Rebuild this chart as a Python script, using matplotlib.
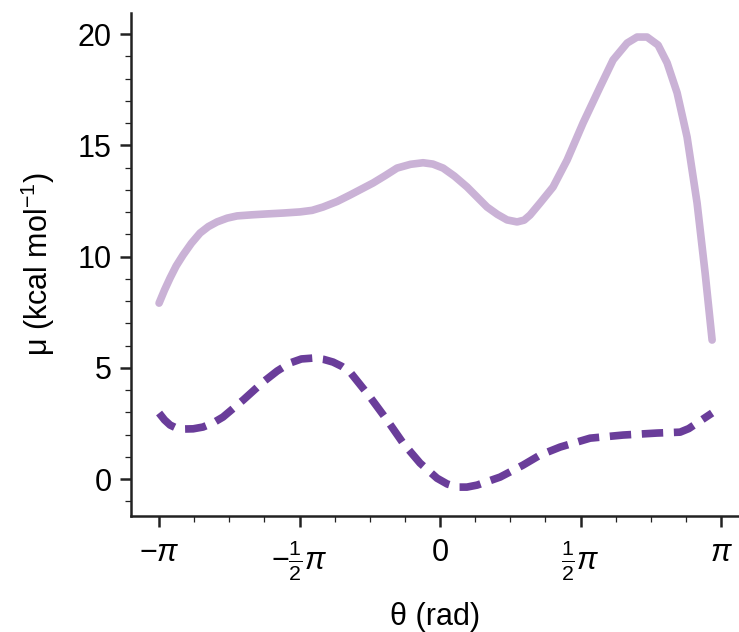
import numpy as np
import matplotlib
matplotlib.use("Agg")
import matplotlib.pyplot as plt
from matplotlib.ticker import FixedLocator, MultipleLocator

# Courbe 1 (trait plein, lilas clair)
theta_a = [-3.141, -3.080, -3.018, -2.950, -2.873, -2.780, -2.683, -2.590, -2.493,
           -2.380, -2.269, -2.100, -1.934, -1.750, -1.565, -1.430, -1.308,
           -1.150, -1.006, -0.749, -0.610, -0.481, -0.330, -0.190, -0.080, 0.034,
           0.160, 0.302, 0.525, 0.640, 0.749, 0.861, 0.940,
           1.006, 1.118, 1.263, 1.420, 1.599, 1.789, 1.934, 2.091, 2.202, 2.314,
           2.437, 2.538, 2.650, 2.761, 2.873, 2.963, 3.041]
mu_a = [7.91, 8.50, 9.04, 9.58, 10.07, 10.60, 11.06, 11.35, 11.56,
        11.73, 11.83, 11.88, 11.92, 11.96, 12.01, 12.08, 12.23,
        12.48, 12.77, 13.31, 13.65, 13.98, 14.15, 14.22, 14.16, 13.98,
        13.62, 13.13, 12.23, 11.90, 11.65, 11.56, 11.64,
        11.87, 12.41, 13.13, 14.34, 16.01, 17.63, 18.84, 19.60, 19.87, 19.87,
        19.51, 18.71, 17.36, 15.38, 12.41, 9.26, 6.25]

# Courbe 2 (tirets, violet foncé)
theta_b = [-3.141, -3.080, -3.018, -2.950, -2.873, -2.760, -2.650, -2.540, -2.426,
           -2.202, -1.979, -1.820, -1.677, -1.550, -1.420, -1.300, -1.196,
           -1.100, -1.006, -0.783, -0.592, -0.414, -0.224, -0.034, 0.080, 0.190,
           0.300, 0.414, 0.671, 0.928, 1.118, 1.342, 1.677, 2.046, 2.426, 2.683,
           2.780, 2.873, 3.041]
mu_b = [2.97, 2.66, 2.43, 2.30, 2.25, 2.26, 2.34, 2.52, 2.79,
        3.55, 4.36, 4.86, 5.22, 5.40, 5.44, 5.38, 5.26,
        5.07, 4.81, 3.69, 2.65, 1.62, 0.72, 0.04, -0.22, -0.36,
        -0.36, -0.27, 0.09, 0.63, 1.08, 1.44, 1.84, 1.98, 2.07, 2.11,
        2.27, 2.52, 2.97]

xticks = [-np.pi, -np.pi / 2, 0, np.pi / 2, np.pi]
xticklabels = [r"$-\pi$", r"$-\frac{1}{2}\pi$", r"$0$", r"$\frac{1}{2}\pi$", r"$\pi$"]
yticks = [0, 5, 10, 15, 20]

plt.rcParams["font.family"] = ["Liberation Sans", "DejaVu Sans"]
plt.rcParams["mathtext.fontset"] = "custom"
plt.rcParams["mathtext.rm"] = "Liberation Sans"
plt.rcParams["mathtext.it"] = "Liberation Sans:italic"
plt.rcParams["mathtext.bf"] = "Liberation Sans:bold"

fig = plt.figure(figsize=(7.39, 6.32), dpi=100)
ax = fig.add_axes([0.1773, 0.1835, 0.8227, 0.7959])

ax.plot(theta_a, mu_a, color="#cab2d6", lw=5.5, solid_capstyle="round",
        solid_joinstyle="round")
ax.plot(theta_b, mu_b, color="#6a3d9a", lw=5.5, linestyle=(0, (2.8, 1.4)),
        dash_capstyle="butt", dash_joinstyle="round")

ax.set_xlim(-np.pi - 0.313, np.pi + 0.20)
ax.set_ylim(-1.66, 20.95)

ax.xaxis.set_major_locator(FixedLocator(xticks))
ax.set_xticklabels(xticklabels)
ax.xaxis.set_minor_locator(MultipleLocator(np.pi / 8))
ax.yaxis.set_major_locator(FixedLocator(yticks))
ax.yaxis.set_minor_locator(MultipleLocator(1))

for side in ["top", "right"]:
    ax.spines[side].set_visible(False)
for side in ["left", "bottom"]:
    ax.spines[side].set_linewidth(1.8)
    ax.spines[side].set_color("#222222")

ax.tick_params(which="major", length=8, width=1.8, color="#222222",
               labelsize=22, pad=6)
ax.tick_params(which="minor", length=4, width=0.9, color="#222222")
ax.tick_params(axis="x", which="major", pad=8)

ax.set_xlabel("θ (rad)", fontsize=22, labelpad=14)
ax.set_ylabel(r"μ (kcal mol$^{-1}$)", fontsize=22, labelpad=15)

fig.savefig("out.png", dpi=100)
